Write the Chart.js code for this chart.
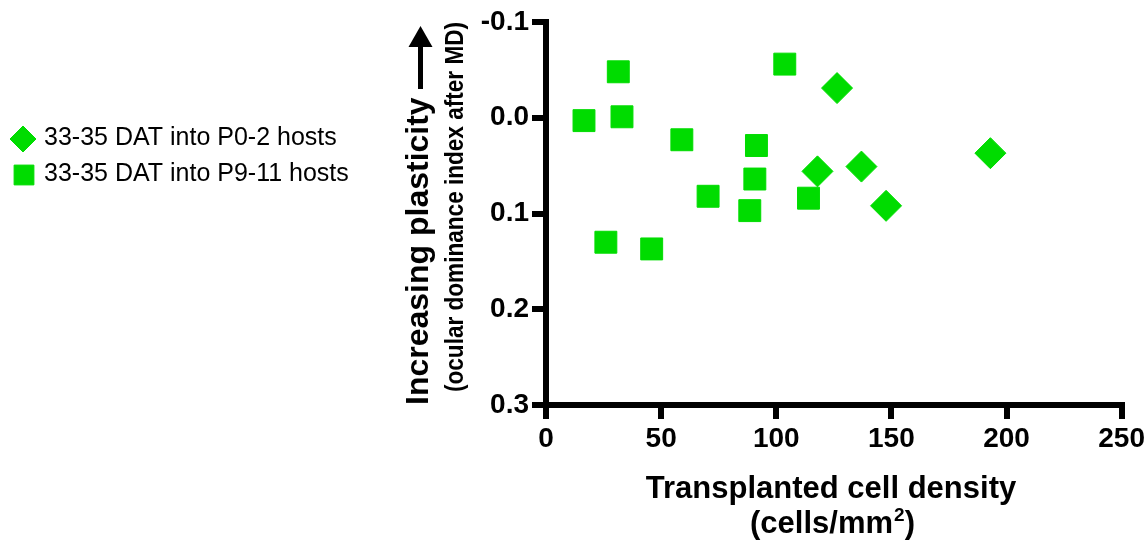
<!DOCTYPE html>
<html>
<head>
<meta charset="utf-8">
<script src="https://cdn.jsdelivr.net/npm/chart.js@4"></script>
<style>
  body { margin: 0; background: #fff; }
  #wrap { width: 1148px; height: 556px; }
</style>
</head>
<body>
<div id="wrap"><canvas id="plasticityChart"></canvas></div>
<script>
// values
const p0Density = [126.4, 117.9, 137.0, 147.7, 193.0];
const p0Index = [-0.031, 0.056, 0.051, 0.092, 0.037];
const p9Density = [16.5, 31.4, 33.0, 59.0, 91.4, 103.7, 90.7, 70.4, 88.5, 114.0, 26.0, 45.9];
const p9Index = [0.003, -0.048, -0.001, 0.023, 0.029, -0.056, 0.064, 0.082, 0.097, 0.084, 0.130, 0.137];
const seriesNames = ['33-35 DAT into P0-2 hosts', '33-35 DAT into P9-11 hosts'];
const xTitle = ['Transplanted cell density', '(cells/mm', '2', ')'];
const yTitle = ['Increasing plasticity', '(ocular dominance index after MD)'];

const green = '#00dc00';
const font = '"Liberation Sans", Arial, sans-serif';

const toPoints = (xs, ys) => xs.map((x, i) => ({ x: x, y: ys[i] }));

// axis titles, arrow and the legend at the left
const sideTexts = {
  id: 'sideTexts',
  afterDraw(chart) {
    const ctx = chart.ctx;
    ctx.save();
    ctx.fillStyle = '#000';
    ctx.strokeStyle = '#000';
    ctx.textBaseline = 'alphabetic';

    // x title, two lines with a superscript
    ctx.font = 'bold 31px ' + font;
    ctx.textAlign = 'center';
    ctx.fillText(xTitle[0], 831, 498);
    ctx.textAlign = 'left';
    const w1 = ctx.measureText(xTitle[1]).width;
    const w3 = ctx.measureText(xTitle[3]).width;
    ctx.font = 'bold 19px ' + font;
    const w2 = ctx.measureText(xTitle[2]).width;
    let left = 832 - (w1 + w2 + w3) / 2;
    ctx.font = 'bold 31px ' + font;
    ctx.fillText(xTitle[1], left, 533);
    ctx.font = 'bold 19px ' + font;
    ctx.fillText(xTitle[2], left + w1 + 1, 521);
    ctx.font = 'bold 31px ' + font;
    ctx.fillText(xTitle[3], left + w1 + w2 + 1, 533);

    // y title
    ctx.save();
    ctx.translate(428, 405);
    ctx.rotate(-Math.PI / 2);
    ctx.font = 'bold 32px ' + font;
    ctx.textAlign = 'left';
    ctx.fillText(yTitle[0], 0, 0);
    ctx.restore();

    ctx.save();
    ctx.translate(463, 207);
    ctx.rotate(-Math.PI / 2);
    ctx.font = 'bold 25px ' + font;
    ctx.textAlign = 'center';
    ctx.fillText(yTitle[1], 0, 0, 370);
    ctx.restore();

    // arrow
    ctx.lineWidth = 5;
    ctx.beginPath();
    ctx.moveTo(420.5, 89);
    ctx.lineTo(420.5, 44);
    ctx.stroke();
    ctx.beginPath();
    ctx.moveTo(408.5, 47);
    ctx.lineTo(432.5, 47);
    ctx.lineTo(420.5, 26);
    ctx.closePath();
    ctx.fill();

    // legend
    const ds = chart.data.datasets;
    const rows = [
      { y: 139, r: 13, x: 23 },
      { y: 175, r: 14, x: 24 }
    ];
    rows.forEach((row, i) => {
      ctx.fillStyle = green;
      ctx.strokeStyle = green;
      ctx.lineWidth = 1;
      Chart.helpers.drawPoint(ctx, { pointStyle: ds[i].pointStyle, radius: row.r, borderWidth: 1, rotation: 0 }, row.x, row.y);
      ctx.fillStyle = '#000';
      ctx.font = '25px ' + font;
      ctx.textAlign = 'left';
      ctx.textBaseline = 'middle';
      ctx.fillText(seriesNames[i], 44, row.y - 1);
    });
    ctx.restore();
  }
};

new Chart(document.getElementById('plasticityChart'), {
  type: 'scatter',
  data: {
    datasets: [
      {
        label: seriesNames[0],
        data: toPoints(p0Density, p0Index),
        pointStyle: 'rectRot',
        pointRadius: 15.5,
        backgroundColor: green,
        borderColor: green,
        borderWidth: 1
      },
      {
        label: seriesNames[1],
        data: toPoints(p9Density, p9Index),
        pointStyle: 'rect',
        pointRadius: 15.5,
        backgroundColor: green,
        borderColor: green,
        borderWidth: 1
      }
    ]
  },
  options: {
    responsive: true,
    maintainAspectRatio: false,
    animation: false,
    events: [],
    layout: { padding: { left: 0, top: 22, right: 26, bottom: 0 } },
    plugins: {
      legend: { display: false },
      tooltip: { enabled: false }
    },
    scales: {
      x: {
        type: 'linear',
        min: 0,
        max: 250,
        afterFit: (scale) => { scale.height = 151; },
        ticks: {
          stepSize: 50,
          color: '#000',
          padding: 3,
          font: { family: font, size: 28, weight: 'bold' }
        },
        grid: {
          drawOnChartArea: false,
          drawTicks: true,
          tickLength: 14,
          lineWidth: 6,
          color: '#000'
        },
        border: { display: true, color: '#000', width: 6 }
      },
      y: {
        type: 'linear',
        min: -0.1,
        max: 0.3,
        reverse: true,
        afterFit: (scale) => { scale.width = 546; },
        ticks: {
          stepSize: 0.1,
          color: '#000',
          padding: 3,
          font: { family: font, size: 28, weight: 'bold' },
          callback: (v) => (Math.abs(v) < 1e-9 ? '0.0' : v.toFixed(1))
        },
        grid: {
          drawOnChartArea: false,
          drawTicks: true,
          tickLength: 14,
          lineWidth: 6,
          color: '#000'
        },
        border: { display: true, color: '#000', width: 6 }
      }
    }
  },
  plugins: [sideTexts]
});
</script>
</body>
</html>
